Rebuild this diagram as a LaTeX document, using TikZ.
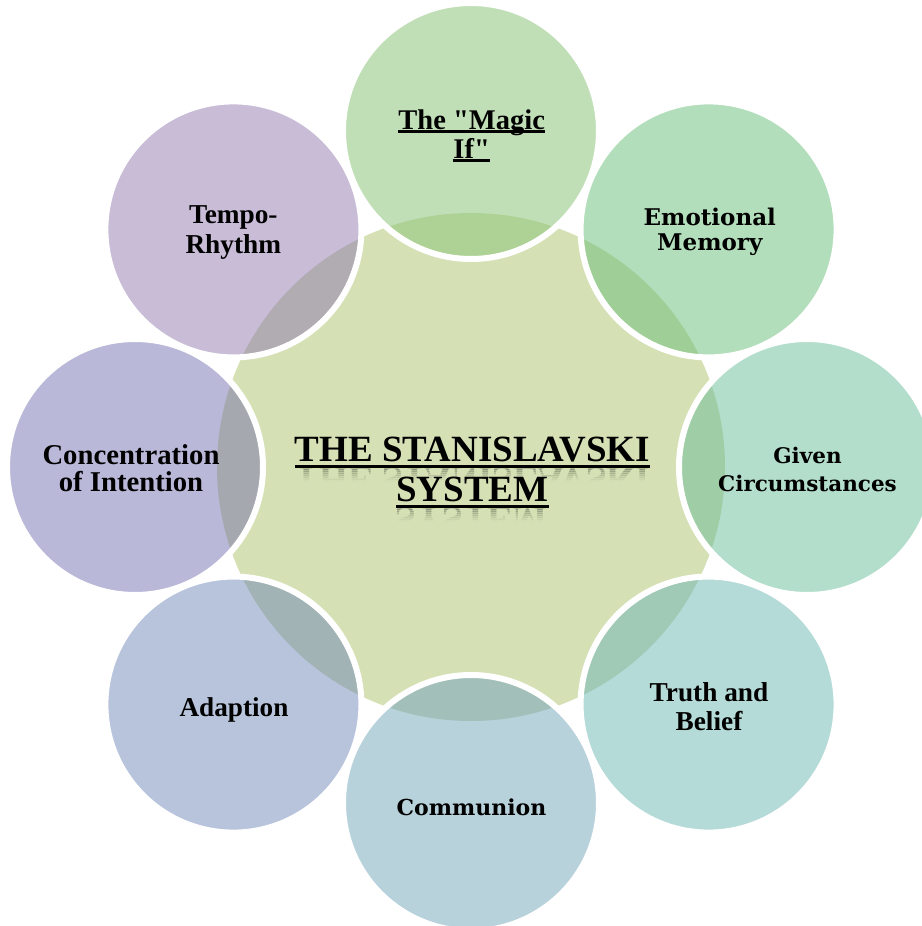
\documentclass[tikz,border=0pt]{standalone}
\usepackage{fontspec}
\setmainfont{Liberation Serif}[Ligatures=TeXOff]
\newfontfamily\camfont{DejaVu Serif}
\newcommand\ulx[3]{\leavevmode\setbox0\hbox{#3}\rlap{\rule[-#1]{\wd0}{#2}}\box0}
\newcommand\lbl[1]{\vtop{\halign{\hfil##\hfil\cr#1\crcr}}}
\definecolor{ccenter}{HTML}{D5E1B5}
\definecolor{cMagic}{HTML}{C1DFB7}\definecolor{oMagic}{HTML}{AED295}
\definecolor{cEmo}{HTML}{B3DEBB}\definecolor{oEmo}{HTML}{A0CE97}
\definecolor{cGiven}{HTML}{B3DECC}\definecolor{oGiven}{HTML}{9FCDA6}
\definecolor{cTruth}{HTML}{B5DBD8}\definecolor{oTruth}{HTML}{A0C9B6}
\definecolor{cComm}{HTML}{B8D2DC}\definecolor{oComm}{HTML}{A2C0B9}
\definecolor{cAdapt}{HTML}{B7C4DC}\definecolor{oAdapt}{HTML}{A2B3B5}
\definecolor{cConc}{HTML}{BAB8D8}\definecolor{oConc}{HTML}{A5A8AF}
\definecolor{cTempo}{HTML}{C8BCD7}\definecolor{oTempo}{HTML}{B1ABB2}
\begin{document}
\begin{tikzpicture}[x=1pt,y=1pt,
  lab/.style={anchor=base, inner sep=0pt, text=black},
  ring/.style={draw=white, line width=6pt},
  titlefont/.style={font={\fontsize{37pt}{40pt}\selectfont\bfseries}}]
\useasboundingbox (-471,-459) rectangle (450,467);
% central circle
\fill[fill=ccenter] (0,0) circle (254pt);
% outer circles: fills
\foreach \a/\c/\o in {90/cMagic/oMagic,45/cEmo/oEmo,0/cGiven/oGiven,-45/cTruth/oTruth,-90/cComm/oComm,-135/cAdapt/oAdapt,180/cConc/oConc,135/cTempo/oTempo}{
  \fill[fill=\c] (\a:336) circle (128pt);
  \begin{scope}
    \clip (0,0) circle (254pt);
    \fill[fill=\o] (\a:336) circle (128pt);
  \end{scope}
}
% white rings
\foreach \a in {90,45,0,-45,-90,-135,180,135}{
  \draw[ring] (\a:336) circle (128pt);
}
% title reflection
\foreach \k/\op in {0/0.20,1/0.16,2/0.12,3/0.09,4/0.06,5/0.035,6/0.015}{
  \begin{scope}
    \clip (-200,{-0.7-2*\k}) rectangle (200,{-0.7-2*\k-2});
    \begin{scope}[shift={(0,-0.7)}, yscale=-1]
      \node[lab, titlefont, transform shape, text opacity=\op] (r1) at (1.5,0) {THE STANISLAVSKI};
    \end{scope}
  \end{scope}
  \begin{scope}
    \clip (-200,{-40.7-2*\k}) rectangle (200,{-40.7-2*\k-2});
    \begin{scope}[shift={(0,-40.7)}, yscale=-1]
      \node[lab, titlefont, transform shape, text opacity=\op] (r2) at (0.3,0) {SYSTEM};
    \end{scope}
  \end{scope}
}
% title
\node[lab, titlefont] (title) at (1.5,5.3)
  {\lbl{\ulx{6pt}{2.7pt}{THE STANISLAVSKI}\cr\ulx{6pt}{2.7pt}{SYSTEM}}};
% labels
\node[lab, font={\fontsize{28.5pt}{29pt}\selectfont\bfseries}] (magic) at (0.7,337.7)
  {\lbl{\ulx{3.4pt}{2.2pt}{The "Magic}\cr\ulx{3.4pt}{2.2pt}{If"}}};
\node[lab, font={\camfont\fontsize{23pt}{25.3pt}\selectfont\bfseries}] (emo) at (238.8,241.3)
  {\lbl{Emotional\cr Memory}};
\node[lab, font={\camfont\fontsize{21.5pt}{27.7pt}\selectfont\bfseries}] (given) at (336.5,3.7)
  {\lbl{Given\cr Circumstances}};
\node[lab, font={\fontsize{27.3pt}{28.3pt}\selectfont\bfseries}] (truth) at (238,-234.7)
  {\lbl{Truth and\cr Belief}};
\node[lab, font={\camfont\fontsize{22pt}{26pt}\selectfont\bfseries}] (comm) at (0.5,-348)
  {Communion};
\node[lab, font={\fontsize{27.2pt}{28pt}\selectfont\bfseries}] (adapt) at (-237,-249.7)
  {Adaption};
\node[lab, font={\fontsize{28.7pt}{27.4pt}\selectfont\bfseries}] (conc) at (-340,2.7)
  {\lbl{Concentration\cr of Intention}};
\node[lab, font={\fontsize{27.3pt}{30pt}\selectfont\bfseries}] (tempo) at (-237.7,243.7)
  {\lbl{Tempo-\cr Rhythm}};
\end{tikzpicture}
\end{document}
